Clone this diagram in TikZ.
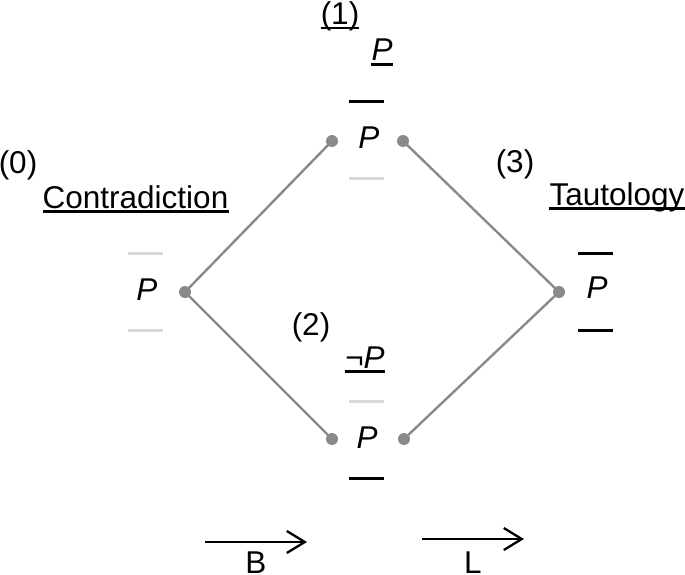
\documentclass[tikz,border=0pt]{standalone}
\usepackage{fontspec}
\setmainfont{Liberation Sans}
\usetikzlibrary{arrows.meta,calc}
\definecolor{edgegray}{HTML}{8A8A8A}
\definecolor{barlight}{HTML}{D9D9D9}
\begin{document}
\begin{tikzpicture}[x=1pt,y=-1pt,
  lbl/.style={font=\fontsize{31.5}{38}\selectfont, inner sep=0pt, anchor=base},
  ul/.style={line width=2.2pt, black},
  darkbar/.style={line width=3pt, black},
  lightbar/.style={line width=3pt, barlight},
  edge/.style={line width=2.4pt, edgegray},
  dotc/.style={circle, fill=edgegray, inner sep=0pt, minimum size=12pt},
  arr/.style={line width=2.3pt, -{Straight Barb[length=18pt,width=22pt,line width=2.3pt]}}
]
\useasboundingbox (0,0) rectangle (685,575);

% labels
\node[lbl] (one) at (340,24.5) {(1)};
\node[lbl] (ptop) at (382,61) {\textit{P}};
\node[lbl] (p1) at (369,148) {\textit{P}};
\node[lbl] (zero) at (18,173) {(0)};
\node[lbl] (contra) at (135.5,208) {Contradiction};
\node[lbl] (p0) at (147,300) {\textit{P}};
\node[lbl] (two) at (311,335) {(2)};
\node[lbl] (negp) at (365,368) {¬\textit{P}};
\node[lbl] (p2) at (367,448) {\textit{P}};
\node[lbl] (three) at (515,172) {(3)};
\node[lbl] (taut) at (617,205) {Tautology};
\node[lbl] (p3) at (597,298) {\textit{P}};
\node[lbl, text depth=0pt] (bl) at (256,573.5) {B};
\node[lbl, text depth=0pt] (ll) at (473,573.5) {L};

% underlines
\foreach \n in {one,ptop,contra,negp,taut}
  \draw[ul] ($(\n.base west)+(0,3.5)$) -- ($(\n.base east)+(0,3.5)$);

% bars
\draw[darkbar] (349,101.5) -- (384,101.5);
\draw[lightbar] (349,178) -- (384,178);
\draw[lightbar] (128,253) -- (163,253);
\draw[lightbar] (128,330) -- (163,330);
\draw[lightbar] (349,401) -- (384,401);
\draw[darkbar] (349,478) -- (384,478);
\draw[darkbar] (578,253) -- (613,253);
\draw[darkbar] (578,330) -- (613,330);

% dots
\node[dotc] (d0) at (185,292) {};
\node[dotc] (d1l) at (332,141) {};
\node[dotc] (d1r) at (403,141) {};
\node[dotc] (d2l) at (332,439) {};
\node[dotc] (d2r) at (404,439) {};
\node[dotc] (d3) at (559,292) {};

% edges
\draw[edge] (d0.center) -- (d1l.center);
\draw[edge] (d0.center) -- (d2l.center);
\draw[edge] (d1r.center) -- (d3.center);
\draw[edge] (d2r.center) -- (d3.center);

% arrows
\coordinate (ba) at (205,542);
\coordinate (bb) at (307,542);
\coordinate (la) at (422,539);
\coordinate (lb) at (524,539);
\draw[arr] (ba) -- (bb);
\draw[arr] (la) -- (lb);
\end{tikzpicture}
\end{document}
